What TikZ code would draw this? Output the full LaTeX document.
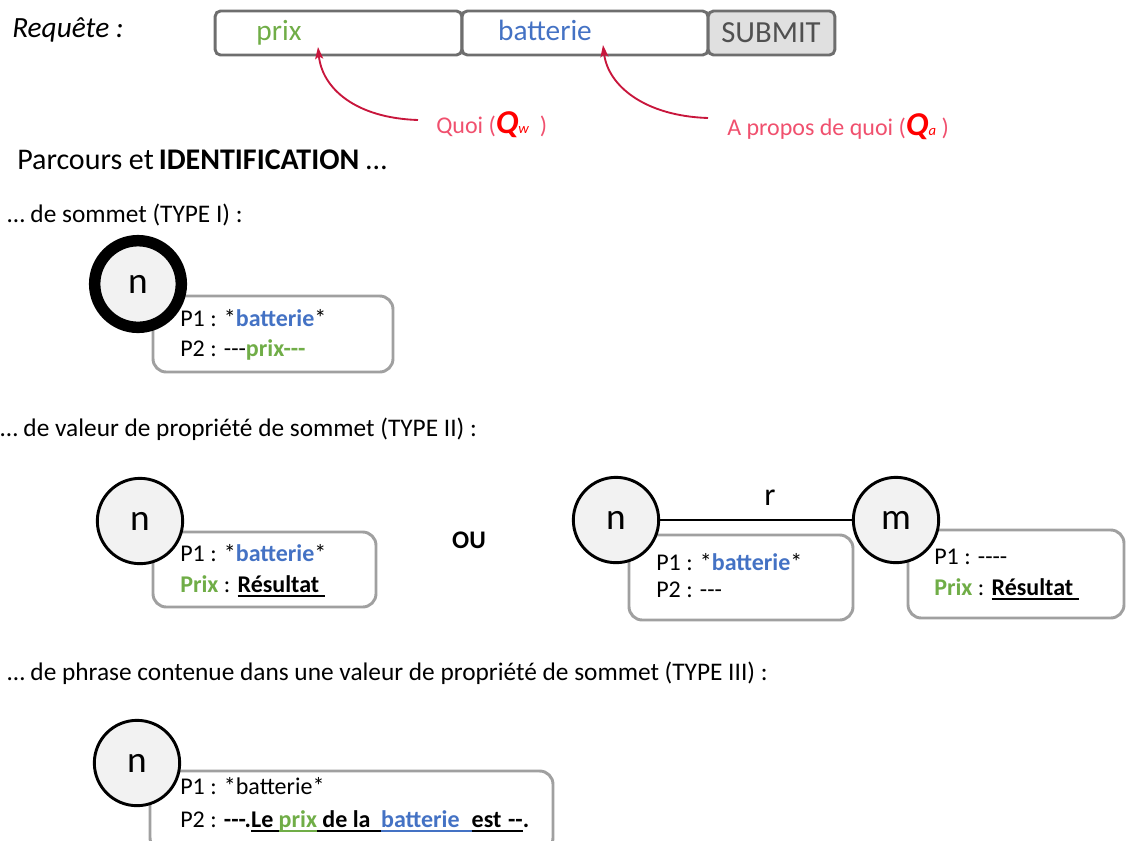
\documentclass[tikz,border=0pt]{standalone}
\usepackage{fontspec}
\setmainfont{Carlito}[Ligatures=TeXOff]
\usetikzlibrary{arrows.meta}
\definecolor{champgris}{HTML}{6E6E6E}
\definecolor{boitegris}{HTML}{A0A0A0}
\definecolor{vert}{HTML}{70AD47}
\definecolor{bleu}{HTML}{4472C4}
\definecolor{rose}{HTML}{F0506E}
\definecolor{rougeQ}{HTML}{FF0000}
\definecolor{fleche}{HTML}{C8163C}
\definecolor{sommetfond}{HTML}{F2F2F2}
\definecolor{submitfond}{HTML}{E0E0E0}
\definecolor{submittexte}{HTML}{505050}
% soulignement colore : \souligne{couleur}{texte}
\newcommand{\souligne}[2]{\setbox0\hbox{{#2}}\leavevmode\rlap{{\color{#1}\rule[-4pt]{\wd0}{1.6pt}}}\box0}
\begin{document}
\begin{tikzpicture}[x=0.75pt,y=-0.75pt,
  champ/.style={draw=champgris,line width=2.2pt,rounded corners=4pt,minimum height=33pt,inner sep=0pt},
  sommet/.style={circle,draw=black,line width=2.2pt,fill=sommetfond,minimum size=64pt,inner sep=0pt,font=\fontsize{28}{28}\selectfont},
  boite/.style={draw=boitegris,line width=2.2pt,rounded corners=10pt,inner sep=0pt},
  prop/.style={anchor=base west,inner sep=0pt,font=\fontsize{18}{18}\selectfont},
  titre/.style={anchor=base west,inner sep=0pt,font=\fontsize{19}{19}\selectfont},
  lien/.style={-{Stealth[length=9pt,width=6pt,inset=2pt]},draw=fleche,line width=1.4pt}]
  \clip (0,0) rectangle (1126,840);
  % requete et champs
  \node[anchor=base west,inner sep=0pt,font=\fontsize{22}{22}\selectfont\itshape] (requete) at (12,37) {Requête :};
  \node[champ,minimum width=185pt] (champprix) at (338.5,33) {};
  \node[champ,minimum width=184.5pt] (champbat) at (585,33) {};
  \node[champ,fill=submitfond,minimum width=95pt] (submit) at (771.5,33) {};
  \node[anchor=base,inner sep=0pt,font=\fontsize{22}{22}\selectfont,text=vert] (motprix) at (279,40) {prix};
  \node[anchor=base,inner sep=0pt,font=\fontsize{22}{22}\selectfont,text=bleu] (motbat) at (545,40) {batterie};
  \node[anchor=base,inner sep=0pt,font=\fontsize{23}{23}\selectfont,text=submittexte] (motsubmit) at (771,42) {SUBMIT};
  % fleches Qw et Qa
  \coordinate (depquoi) at (418,120);
  \coordinate (pointeprix) at (318,47);
  \coordinate (depapropos) at (708,118);
  \coordinate (pointebat) at (603,45);
  \draw[lien] (depquoi) .. controls (355,118) and (322,88) .. (pointeprix);
  \draw[lien] (depapropos) .. controls (645,116) and (608,86) .. (pointebat);
  \node[anchor=base west,inner sep=0pt,font=\fontsize{18}{18}\selectfont,text=rose] (quoi) at (436,133)
    {Quoi ({\color{rougeQ}\fontsize{25}{25}\selectfont\bfseries\itshape Q}{\color{rougeQ}\fontsize{11}{11}\selectfont\itshape w}\ \ )};
  \node[anchor=base west,inner sep=0pt,font=\fontsize{18}{18}\selectfont,text=rose] (apropos) at (727,135)
    {A propos de quoi ({\color{rougeQ}\fontsize{25}{25}\selectfont\bfseries\itshape Q}{\color{rougeQ}\fontsize{11}{11}\selectfont\itshape a}\ )};
  \node[anchor=base west,inner sep=0pt,font=\fontsize{22.5}{22.5}\selectfont] (parcours) at (17,169)
    {Parcours et\,\textbf{IDENTIFICATION} …};
  % TYPE I
  \node[titre] (typeI) at (7,222) {… de sommet (TYPE I) :};
  \node[boite,minimum width=180pt,minimum height=57pt] (boiteI) at (273,334) {};
  \node[sommet,line width=8.6pt,minimum size=65pt] (nI) at (138,284) {n};
  \node[prop] (pIa) at (180,326) {P1 : *\textbf{\color{bleu}batterie}*};
  \node[prop] (pIb) at (180,356) {P2 : ---\textbf{\color{vert}prix---}};
  % TYPE II
  \node[titre] (typeII) at (0,436) {… de valeur de propriété de sommet (TYPE II) :};
  \node[boite,minimum width=167.25pt,minimum height=56.25pt] (boiteII) at (264.5,569.5) {};
  \node[sommet] (nII) at (140,521) {n};
  \node[prop] (pIIa) at (180,561) {P1 : *\textbf{\color{bleu}batterie}*};
  \node[prop] (pIIb) at (180,592) {\textbf{\color{vert}Prix} : \souligne{black}{\textbf{Résultat }}};
  \node[anchor=center,inner sep=0pt,font=\fontsize{19}{19}\selectfont\bfseries] (ou) at (469,540) {OU};
  \node[boite,minimum width=168pt,minimum height=63.75pt] (boiten) at (741,577.5) {};
  \node[boite,minimum width=162pt,minimum height=66pt] (boitem) at (1016,574) {};
  \node[sommet] (n) at (616,520) {n};
  \node[sommet] (m) at (896,520) {m};
  \draw[line width=1.2pt] (n) -- (m);
  \node[anchor=base,inner sep=0pt,font=\fontsize{24}{24}\selectfont] (r) at (770,505) {r};
  \node[prop] (pna) at (656,570) {P1 : *\textbf{\color{bleu}batterie}*};
  \node[prop] (pnb) at (656,597) {P2 : ---};
  \node[prop] (pma) at (934,564) {P1 : ----};
  \node[prop] (pmb) at (934,595) {\textbf{\color{vert}Prix} : \souligne{black}{\textbf{Résultat }}};
  % TYPE III
  \node[titre] (typeIII) at (7,680) {… de phrase contenue dans une valeur de propriété de sommet (TYPE III) :};
  \node[boite,minimum width=302.25pt,minimum height=60pt] (boiteIII) at (351.5,811) {};
  \node[sommet] (nIII) at (137,763) {n};
  \node[prop] (pIIIa) at (180,794) {P1 : *batterie*};
  \node[prop] (pIIIb) at (180,827) {P2 : \textbf{---.\souligne{black}{Le\hspace{4pt}}\souligne{vert}{\color{vert}prix}\souligne{black}{\hspace{4pt}de la\hspace{8pt}}\souligne{bleu}{\color{bleu}batterie\hspace{9pt}}\souligne{black}{est\hspace{5pt}--}.}};
\end{tikzpicture}
\end{document}
